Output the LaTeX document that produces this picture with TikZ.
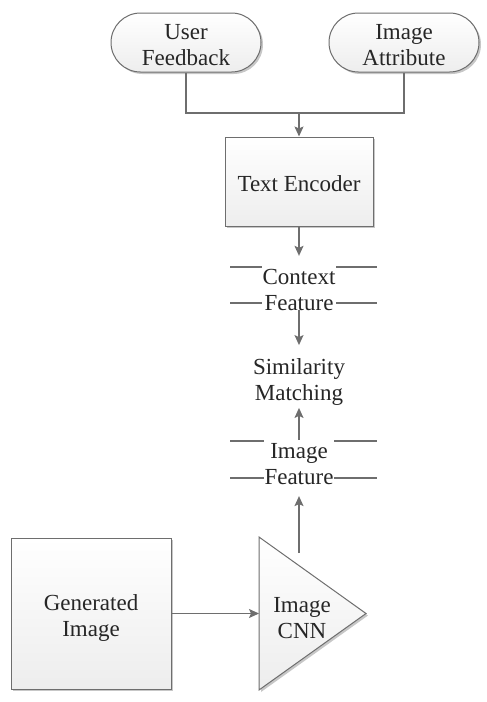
\documentclass[tikz,border=0pt]{standalone}
\usepackage{fontspec}
\setmainfont{Liberation Serif}
\usetikzlibrary{arrows.meta,shadows}
\definecolor{ln}{HTML}{6E6E6E}
\definecolor{tx}{HTML}{262626}
\begin{document}
\begin{tikzpicture}[x=1pt,y=-1pt,
 every node/.style={text=tx,font=\fontsize{23}{26.5}\selectfont,align=center},
 boxsty/.style={draw=ln,line width=1pt,top color=white,bottom color=black!7,
   drop shadow={shadow xshift=2pt,shadow yshift=-2pt,fill=black!22,opacity=1}},
 pill/.style={boxsty,rounded corners=29.5pt,minimum width=150pt,minimum height=59pt,inner sep=0pt},
 conn/.style={draw=ln,line width=1.3pt},
 arr/.style={conn,-{Stealth[length=10pt,width=9pt,inset=2pt]}},
 featline/.style={draw=ln,line width=1.2pt},
 lbl/.style={fill=white,inner xsep=1pt,inner ysep=3pt}]
\useasboundingbox (0,0) rectangle (487,702);

% pills
\node[pill] (uf) at (186,42.5) {};
\node[pill] (ia) at (404,42.5) {};
\node (uft) at (186,45) {User\\Feedback};
\node (iat) at (404,45) {Image\\Attribute};
\coordinate (j) at (299,113);
\draw[conn] (uf.south) |- (j);
\draw[conn] (ia.south) |- (j);

% text encoder
\node[boxsty,minimum width=148pt,minimum height=89pt,inner sep=0pt] (te) at (299,181.5) {};
\node (tet) at (299,184) {Text Encoder};
\draw[arr] (j) -- (te.north);

% context feature
\draw[featline] (230,267) -- (377,267);
\draw[featline] (230,303) -- (377,303);
\node[lbl] (cf) at (299,290) {Context\\Feature};

% similarity matching
\node[inner xsep=1pt,inner ysep=3pt] (sm) at (299,382) {Similarity\\Matching};

% image feature
\draw[featline] (230,441) -- (377,441);
\draw[featline] (230,478) -- (377,478);
\node[lbl] (if) at (299,464) {Image\\Feature};

% bottom row
\node[boxsty,minimum width=160pt,minimum height=151pt,inner sep=0pt] (gen) at (91,613.5) {};
\node (gent) at (91,618) {Generated\\Image};
\draw[boxsty] (259,537) -- (366,613.5) -- (259,690) -- cycle;
\node (cnn) at (302,618) {Image\\CNN};
\coordinate (cnnL) at (259,613.5);
\coordinate (cnnT) at (299,553);

% connectors
\draw[arr,shorten >=10pt] (te.south) -- (cf.north);
\draw[arr,shorten <=-4pt,shorten >=10pt] (cf.south) -- (sm.north);
\draw[arr,shorten >=-1pt] (if.north) -- (sm.south);
\draw[arr] (gen.east) -- (cnnL);
\draw[arr,shorten >=8pt] (cnnT) -- (if.south);
\end{tikzpicture}
\end{document}
